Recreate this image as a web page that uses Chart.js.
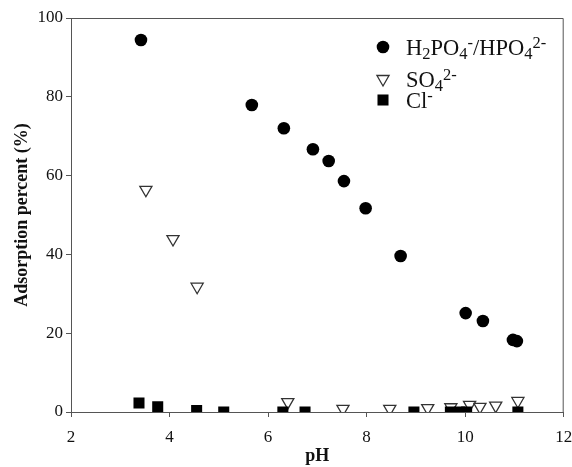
<!DOCTYPE html>
<html lang="en">
<head>
    <meta charset="UTF-8">
    <title>Adsorption percent vs pH</title>
    <script src="https://cdn.jsdelivr.net/npm/chart.js@4.4.1/dist/chart.umd.min.js"></script>
    <style>
        html, body {
            margin: 0;
            padding: 0;
            background: #fff;
        }
        #wrap {
            width: 572px;
            height: 467px;
        }
    </style>
</head>
<body>
    <div id="wrap">
        <canvas id="adsChart" width="572" height="467"></canvas>
    </div>

    <script>
        // pH / adsorption values
        const phosphatePH  = [3.42, 5.67, 6.32, 6.91, 7.23, 7.54, 7.98, 8.69, 10.01, 10.36, 10.97, 11.05];
        const phosphateAds = [94.4, 77.9, 72.0, 66.7, 63.7, 58.6, 51.7, 39.6, 25.1, 23.1, 18.3, 18.0];

        const sulfatePH  = [3.52, 4.07, 4.56, 6.40, 7.52, 8.47, 9.24, 9.71, 10.09, 10.30, 10.62, 11.07];
        const sulfateAds = [56.4, 43.9, 31.8, 2.5, 0.8, 0.8, 1.0, 1.2, 1.8, 1.3, 1.6, 2.8];

        const chloridePH  = [3.38, 3.76, 4.55, 5.10, 6.30, 6.75, 8.96, 9.70, 9.89, 10.03, 11.07];
        const chlorideAds = [2.3, 1.3, 0.4, 0.0, 0.0, 0.0, 0.0, 0.0, 0.0, 0.0, 0.0];

        const xTicks = [2, 4, 6, 8, 10, 12];
        const yTicks = [0, 20, 40, 60, 80, 100];

        // legend text pieces: [text, 'n' | 'sub' | 'sup']
        const legendPhosphate = [['H', 'n'], ['2', 'sub'], ['PO', 'n'], ['4', 'sub'], ['-', 'sup'],
                                 ['/HPO', 'n'], ['4', 'sub'], ['2-', 'sup']];
        const legendSulfate = [['SO', 'n'], ['4', 'sub'], ['2-', 'sup']];
        const legendChloride = [['Cl', 'n'], ['-', 'sup']];

        const serif = "'Liberation Serif', 'Times New Roman', serif";
        const axisColor = '#555';

        function toPoints(xs, ys) {
            return xs.map((x, i) => ({ x: x, y: ys[i] }));
        }

        // top and right edges of the plot box
        const frame = {
            id: 'frame',
            afterDraw(chart) {
                const { ctx, chartArea: a } = chart;
                ctx.save();
                ctx.strokeStyle = axisColor;
                ctx.lineWidth = 1;
                ctx.beginPath();
                ctx.moveTo(a.left, a.top + 0.5);
                ctx.lineTo(a.right - 0.5, a.top + 0.5);
                ctx.lineTo(a.right - 0.5, a.bottom);
                ctx.stroke();
                ctx.restore();
            }
        };

        // legend with sub/superscripts
        const richLegend = {
            id: 'richLegend',
            afterDraw(chart) {
                const ctx = chart.ctx;
                const items = [
                    { parts: legendPhosphate, y: 47, ds: 0 },
                    { parts: legendSulfate, y: 79, ds: 2 },
                    { parts: legendChloride, y: 100, ds: 1 }
                ];
                ctx.save();
                items.forEach(item => {
                    const d = chart.data.datasets[item.ds];
                    const style = {
                        pointStyle: d.pointStyle,
                        radius: d.pointRadius,
                        rotation: d.rotation || 0,
                        borderWidth: d.borderWidth
                    };
                    ctx.fillStyle = d.backgroundColor;
                    ctx.strokeStyle = d.borderColor;
                    ctx.lineWidth = d.borderWidth;
                    Chart.helpers.drawPoint(ctx, style, 383, item.y);

                    let x = 406;
                    const base = item.y + 7.5;
                    ctx.fillStyle = '#111';
                    ctx.textBaseline = 'alphabetic';
                    item.parts.forEach(([txt, mode]) => {
                        let size = 22.5, dy = 0;
                        if (mode === 'sub') { size = 16.5; dy = 4; }
                        if (mode === 'sup') { size = 16.5; dy = -7; }
                        ctx.font = size + 'px ' + serif;
                        ctx.fillText(txt, x, base + dy);
                        x += ctx.measureText(txt).width;
                    });
                });
                ctx.restore();
            }
        };

        new Chart(document.getElementById('adsChart'), {
            type: 'scatter',
            data: {
                datasets: [
                    {
                        label: 'H2PO4-/HPO42-',
                        data: toPoints(phosphatePH, phosphateAds),
                        pointStyle: 'circle',
                        pointRadius: 6.3,
                        backgroundColor: '#000',
                        borderColor: '#000',
                        borderWidth: 0,
                        order: 0
                    },
                    {
                        label: 'Cl-',
                        data: toPoints(chloridePH, chlorideAds),
                        pointStyle: 'rect',
                        pointRadius: 7.8,
                        backgroundColor: '#000',
                        borderColor: '#000',
                        borderWidth: 0,
                        order: 1
                    },
                    {
                        label: 'SO42-',
                        data: toPoints(sulfatePH, sulfateAds),
                        pointStyle: 'triangle',
                        rotation: 180,
                        pointRotation: 180,
                        pointRadius: 7,
                        backgroundColor: '#fff',
                        borderColor: '#333',
                        borderWidth: 1.3,
                        order: 2
                    }
                ]
            },
            options: {
                responsive: false,
                animation: false,
                layout: {
                    padding: { top: 18, right: 8, left: 0, bottom: 0 }
                },
                plugins: {
                    legend: { display: false },
                    tooltip: { enabled: false }
                },
                scales: {
                    x: {
                        type: 'linear',
                        min: 2,
                        max: 12,
                        afterFit(scale) {
                            scale.height = 55;
                            scale.paddingLeft = 0;
                            scale.paddingRight = 0;
                        },
                        afterBuildTicks(scale) { scale.ticks = xTicks.map(v => ({ value: v })); },
                        border: { display: true, color: axisColor, width: 1 },
                        grid: { display: true, drawOnChartArea: false, drawTicks: true, tickLength: 5, color: axisColor },
                        ticks: {
                            padding: 10,
                            color: '#111',
                            font: { family: serif, size: 17 }
                        },
                        title: {
                            display: true,
                            text: 'pH',
                            color: '#111',
                            padding: 0,
                            font: { family: serif, size: 18, weight: 'bold' }
                        }
                    },
                    y: {
                        type: 'linear',
                        min: 0,
                        max: 100,
                        afterFit(scale) {
                            scale.width = 71;
                            scale.paddingTop = 0;
                            scale.paddingBottom = 0;
                        },
                        afterBuildTicks(scale) { scale.ticks = yTicks.map(v => ({ value: v })); },
                        border: { display: true, color: axisColor, width: 1 },
                        grid: { display: true, drawOnChartArea: false, drawTicks: true, tickLength: 5, color: axisColor },
                        ticks: {
                            padding: 3,
                            color: '#111',
                            font: { family: serif, size: 17 }
                        },
                        title: {
                            display: true,
                            text: 'Adsorption percent (%)',
                            color: '#111',
                            padding: { top: 12, bottom: 0 },
                            font: { family: serif, size: 18, weight: 'bold' }
                        }
                    }
                }
            },
            plugins: [frame, richLegend]
        });
    </script>
</body>
</html>
